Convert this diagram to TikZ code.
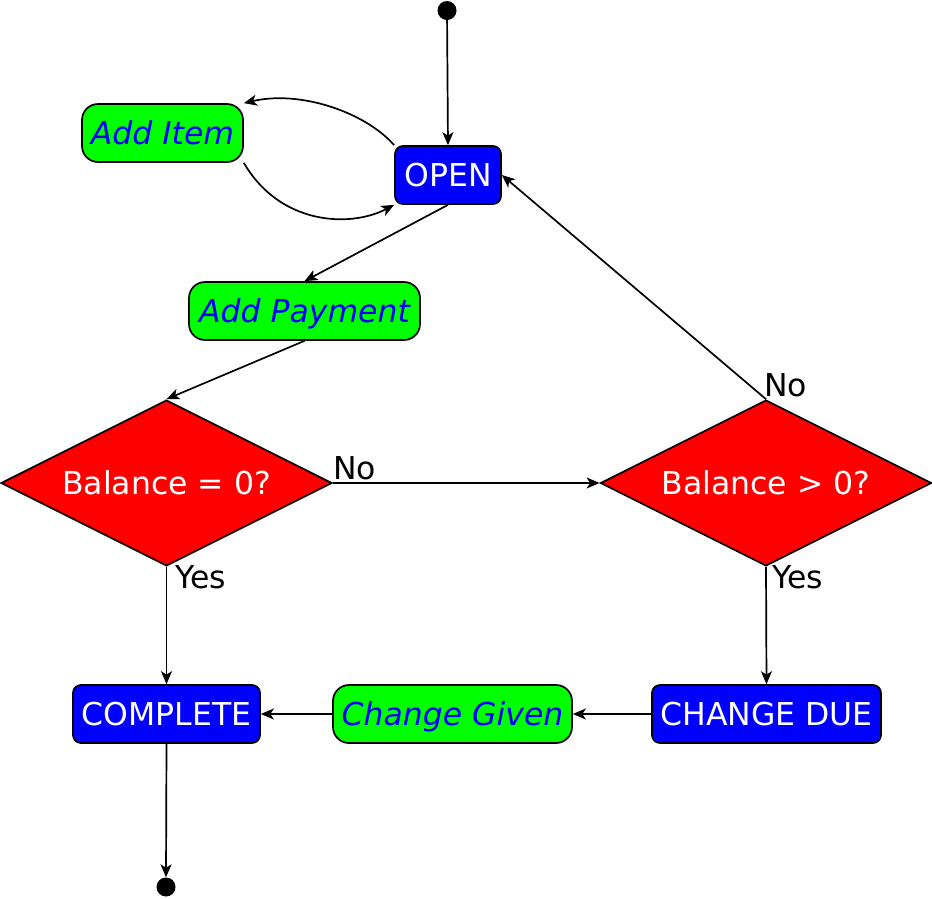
\documentclass[tikz,border=0pt]{standalone}
\usepackage{fontspec}
\setmainfont{DejaVu Sans}
\usetikzlibrary{shapes.geometric,arrows.meta}
\definecolor{bblue}{RGB}{0,0,255}
\definecolor{ggreen}{RGB}{0,255,0}
\definecolor{rred}{RGB}{255,0,0}
\begin{document}
\begin{tikzpicture}[x=1pt,y=-1pt,
  font=\fontsize{31.5}{36}\selectfont,
  statebox/.style={draw=black,line width=1.7pt,fill=bblue,text=white,rounded corners=8pt,minimum height=58pt,inner sep=0pt},
  actbox/.style={draw=black,line width=1.7pt,fill=ggreen,text=bblue,rounded corners=16pt,minimum height=58pt,inner sep=0pt,text depth=0pt,font=\fontsize{31.5}{36}\selectfont\itshape},
  decision/.style={draw=black,line width=1.7pt,fill=rred,text=white,diamond,aspect=2,inner sep=0pt,minimum width=331pt,minimum height=166pt},
  dot/.style={circle,fill=black,inner sep=0pt,minimum size=19pt},
  conn/.style={line width=1.7pt,-{Stealth[length=13pt,width=11pt,inset=3.5pt]}},
  lbl/.style={anchor=west,inner sep=0pt,text=black}]
\useasboundingbox (0,0) rectangle (932,898);
\node[dot] (start) at (447,10.5) {};
\node[statebox,minimum width=106pt] (open) at (448,175) {OPEN};
\node[actbox,minimum width=161pt] (additem) at (162.5,133) {Add Item};
\node[actbox,minimum width=231pt] (addpay) at (304.5,311) {Add Payment};
\node[decision] (bal0) at (166.5,483) {Balance = 0?};
\node[decision] (balg) at (766,483) {Balance > 0?};
\node[statebox,minimum width=187pt] (complete) at (166.5,714) {COMPLETE};
\node[actbox,minimum width=239pt] (given) at (452.5,714) {Change Given};
\node[statebox,minimum width=229pt] (due) at (766.5,714) {CHANGE DUE};
\node[dot] (end) at (166,887) {};

\draw[conn] (start) -- (open.north);
\draw[conn] (open.north west) .. controls (365,112) and (300,90) .. (additem.north east);
\draw[conn] (additem.south east) .. controls (280,225) and (350,228) .. (open.south west);
\draw[conn] (open.south) -- (addpay.north);
\draw[conn] (addpay.south) -- (bal0.north);
\draw[conn] (bal0.east) -- (balg.west);
\draw[conn] (balg.north) -- (open.east);
\draw[conn] (bal0.south) -- (complete.north);
\draw[conn] (balg.south) -- (due.north);
\draw[conn] (due.west) -- (given.east);
\draw[conn] (given.west) -- (complete.east);
\draw[conn] (complete.south) -- (end.north);

\node[lbl] (l1) at (333,468) {No};
\node[lbl] (l2) at (764,385) {No};
\node[lbl] (l3) at (175,577) {Yes};
\node[lbl] (l4) at (772,577) {Yes};
\end{tikzpicture}
\end{document}
